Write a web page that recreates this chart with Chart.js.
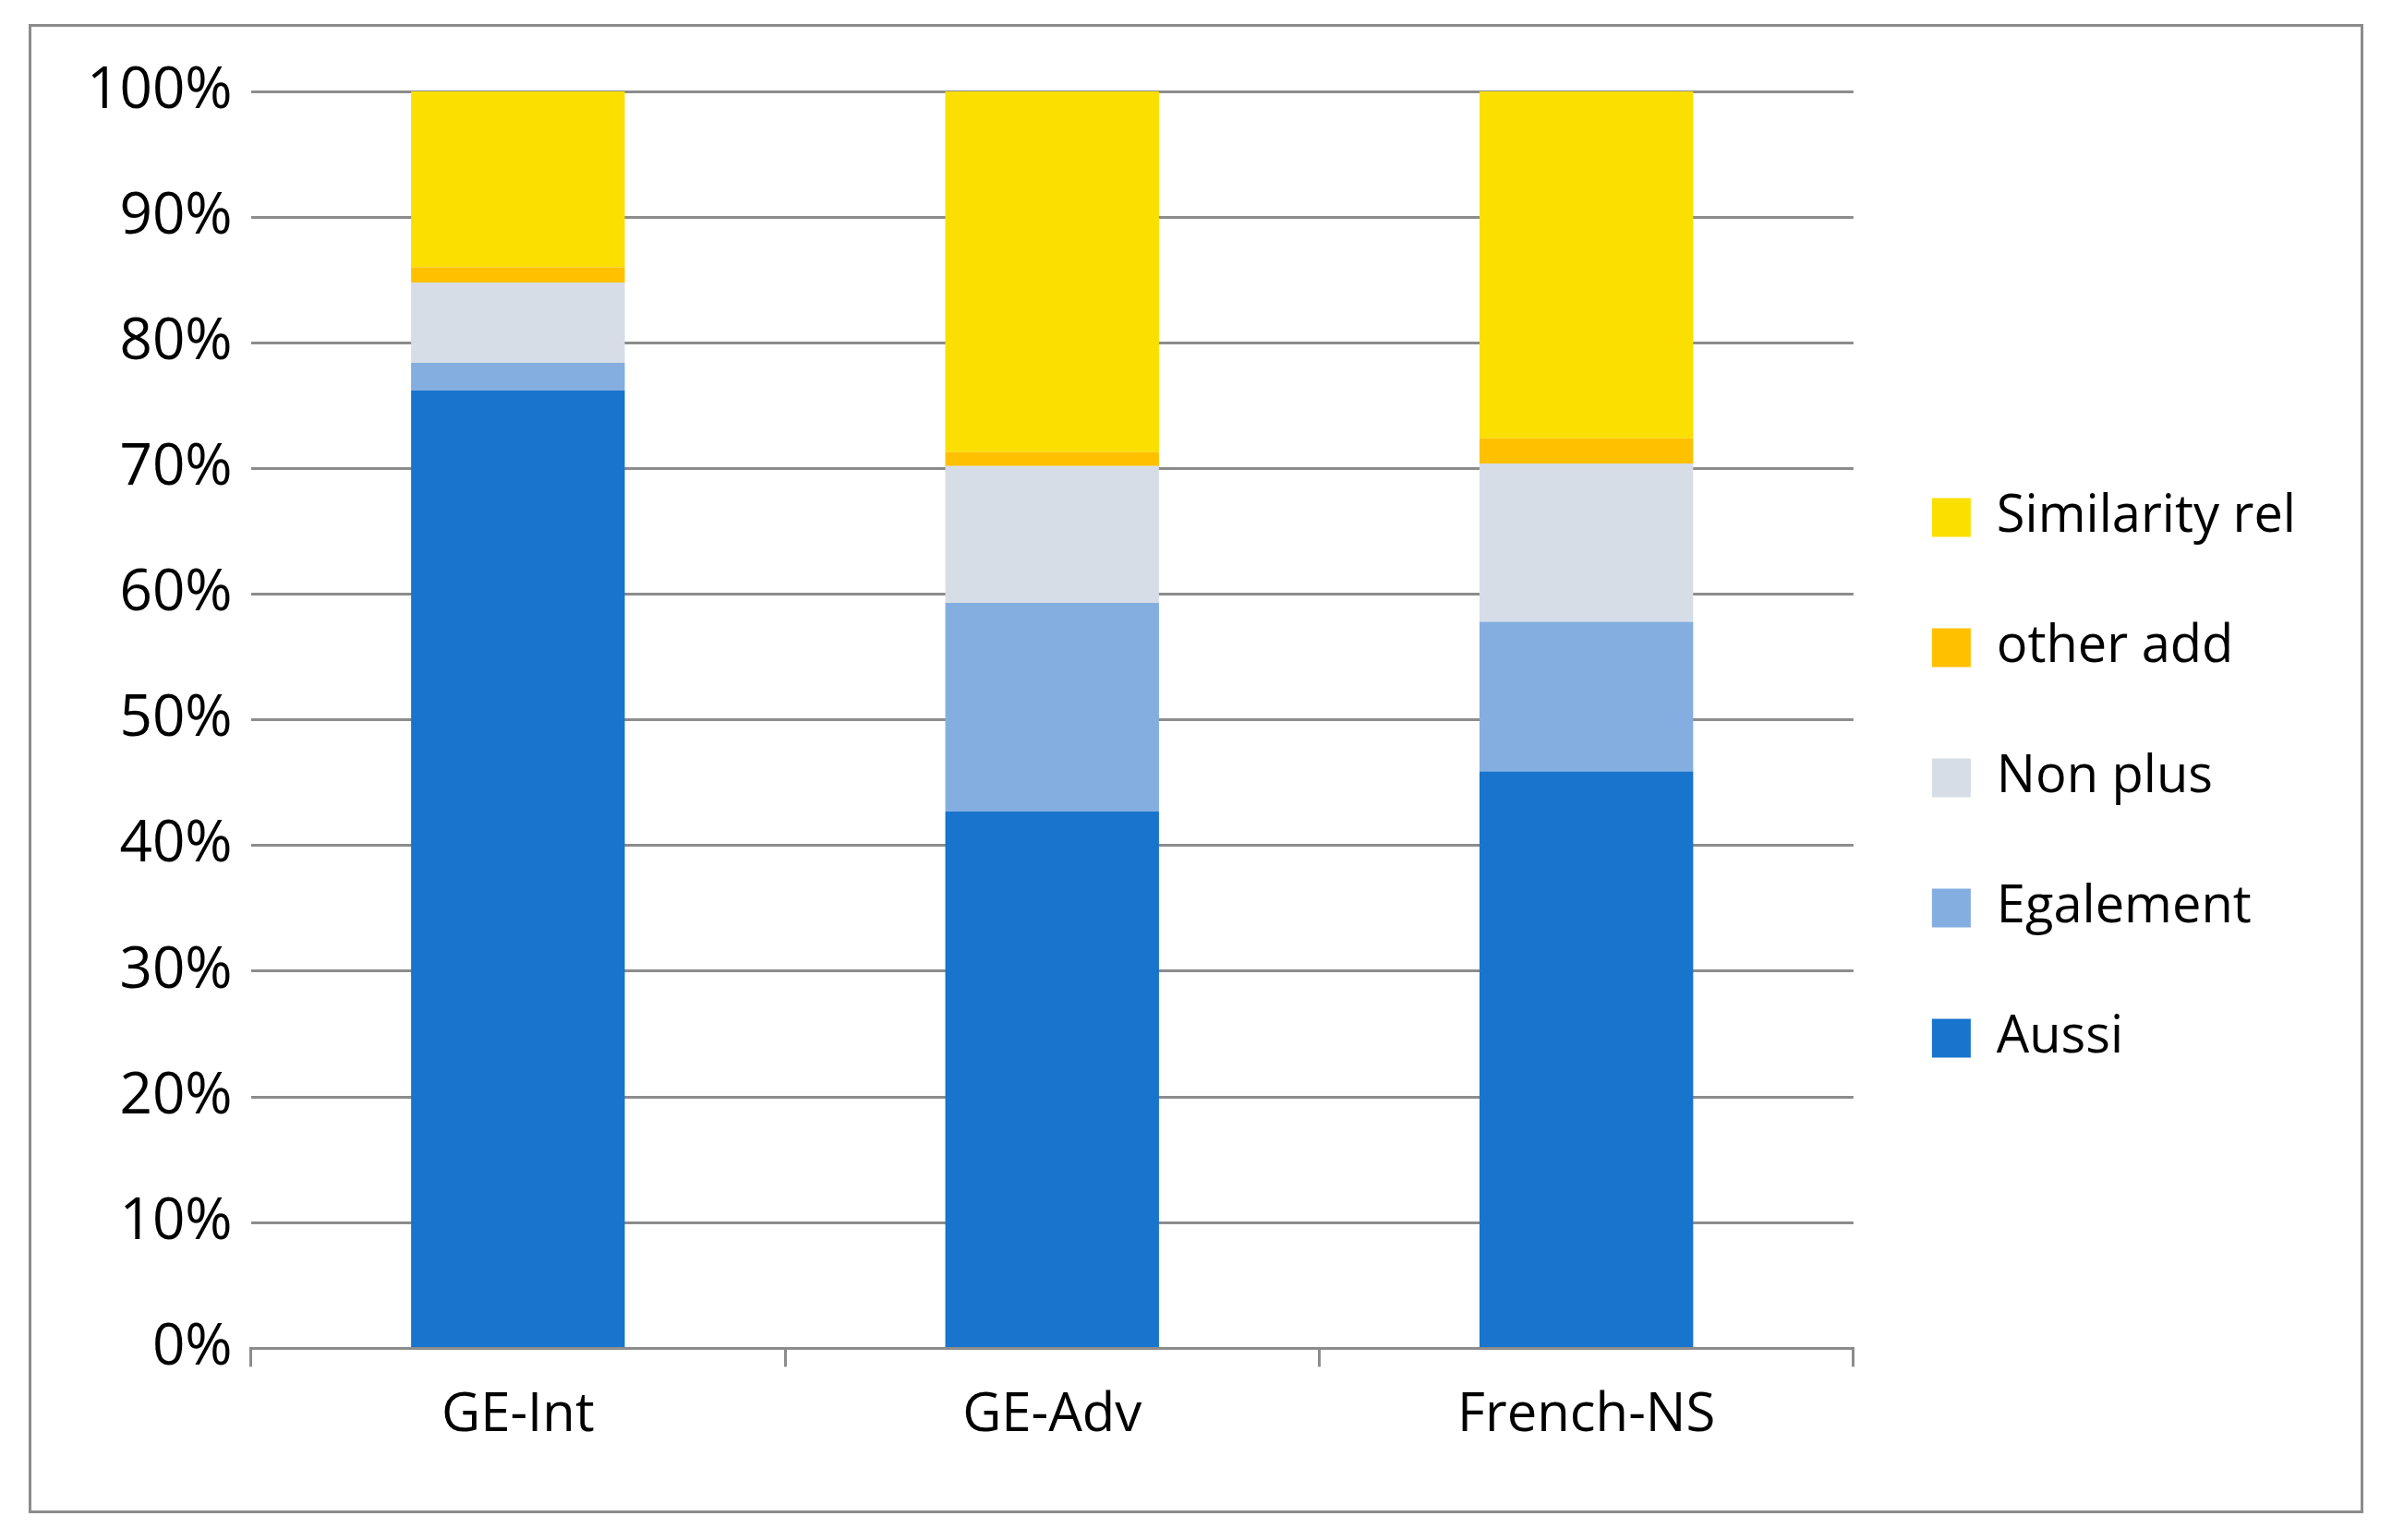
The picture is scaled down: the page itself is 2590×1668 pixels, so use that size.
<!DOCTYPE html>
<html><head><meta charset="utf-8">
<script src="https://cdn.jsdelivr.net/npm/chart.js@4/dist/chart.umd.min.js"></script>
<style>
body{margin:0;background:#fff;}
#box{position:absolute;left:31px;top:26px;width:2522px;height:1607px;border:3px solid #8c8c8c;}
canvas{display:block;}
</style></head><body>
<div id="box"><canvas id="c" width="2522" height="1607"></canvas></div>
<script>
const categories=["GE-Int","GE-Adv","French-NS"];
const aussi=[76.2,42.7,45.9];
const egalement=[2.2,16.6,11.9];
const nonPlus=[6.4,10.9,12.6];
const otherAdd=[1.2,1.1,2.0];
const similarity=[14.0,28.7,27.6];
const yTicks=["0%","10%","20%","30%","40%","50%","60%","70%","80%","90%","100%"];
const F="'Open Sans', 'Liberation Sans', sans-serif";
const ds=(l,d,c)=>({label:l,data:d,backgroundColor:c,barPercentage:0.4,categoryPercentage:1});
new Chart(document.getElementById('c'),{
type:'bar',
data:{labels:categories,datasets:[
ds("Aussi",aussi,"#1874cd"),
ds("Egalement",egalement,"#84aee0"),
ds("Non plus",nonPlus,"#d6dde6"),
ds("other add",otherAdd,"#ffc000"),
ds("Similarity rel",similarity,"#fadf00")]},
options:{responsive:false,animation:false,devicePixelRatio:1,
layout:{padding:{left:40,top:70,right:60,bottom:50}},
plugins:{tooltip:{enabled:false},
legend:{position:'right',reverse:true,align:'center',
labels:{font:{family:F,size:56},color:'#000',boxWidth:42,boxHeight:42,padding:85}}},
scales:{
x:{stacked:true,grid:{display:true,offset:true,drawOnChartArea:false,color:'#8c8c8c',lineWidth:3,tickLength:20},
border:{color:'#8c8c8c',width:3},
ticks:{font:{family:F,size:58},color:'#000',padding:18}},
y:{stacked:true,min:0,max:100,
grid:{color:'#8c8c8c',lineWidth:3,drawTicks:false},
border:{display:false},
ticks:{stepSize:10,font:{family:F,size:62},color:'#000',padding:20,callback:(v,i)=>yTicks[i]}}}}
});
</script>
</body></html>
